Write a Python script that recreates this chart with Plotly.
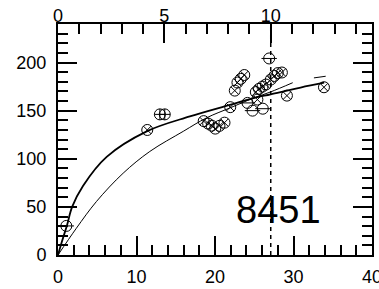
import plotly.graph_objects as go

# ---- data ----
x_cross = [11.37, 18.56, 19.13, 19.58, 20.03, 20.57, 21.21, 21.94, 22.52, 22.86,
           23.28, 23.73, 25.4, 25.2, 25.6, 26.05, 26.48, 27.11, 27.56, 28.0,
           28.52, 29.16, 33.88]
y_cross = [129.9, 139.1, 136.5, 134.4, 131.3, 134.2, 137.5, 153.6, 170.8, 179.2,
           183.0, 187.0, 161.5, 169.3, 172.6, 175.0, 177.1, 182.3, 186.0, 189.0,
           189.6, 165.6, 174.3]

x_plus = [12.98, 13.6]
y_plus = [146.1, 146.1]

x_minus = [1.06, 24.14, 24.78, 26.09, 26.9]
y_minus = [30.2, 158.0, 150.0, 152.0, 204.2]

x_fit_a = [0, 0.5, 1.15, 1.8, 3.2, 6.2, 11.3, 16.8, 21.9, 24.9, 27.1, 30.9, 33.9]
y_fit_a = [0, 14, 31, 50, 72, 102, 128.5, 144, 156, 163, 167, 174, 179]

x_fit_b = [0, 2.34, 4.89, 8.3, 11.7, 15.96, 18.9, 21.9, 24.9, 27.1, 29.9]
y_fit_b = [0, 27.8, 55.5, 85, 107.6, 128.5, 142.4, 152.8, 163, 169.5, 179]

x_tail_b = [32.6, 34.1]
y_tail_b = [184.0, 185.7]

x_range = [0, 40]
top_range = [0, 14.76]
y_range = [0, 240]
ref_top = 10
label_text = "8451"
label_pos = (28.1, 47)

FONT = "Liberation Sans, Arial, sans-serif"

fig = go.Figure()

fig.add_trace(go.Scatter(x=x_fit_b, y=y_fit_b, mode="lines", line=dict(color="black", width=1, shape="spline")))
fig.add_trace(go.Scatter(x=x_tail_b, y=y_tail_b, mode="lines", line=dict(color="black", width=1)))
fig.add_trace(go.Scatter(x=x_fit_a, y=y_fit_a, mode="lines", line=dict(color="black", width=1.8, shape="spline")))

mk = dict(size=11, color="black", line=dict(color="black", width=1))
fig.add_trace(go.Scatter(x=x_cross, y=y_cross, mode="markers", marker=dict(symbol="circle-x-open", **mk)))
fig.add_trace(go.Scatter(x=x_plus, y=y_plus, mode="markers", marker=dict(symbol="circle-cross-open", **mk)))
fig.add_trace(go.Scatter(x=x_minus, y=y_minus, mode="markers", marker=dict(symbol="circle-open", **mk)))
fig.add_trace(go.Scatter(x=x_minus, y=y_minus, mode="markers", marker=dict(symbol="line-ew-open", **mk)))

# dashed reference line on the top/right axes
fig.add_trace(go.Scatter(x=[ref_top, ref_top], y=y_range, mode="lines", xaxis="x2", yaxis="y2",
                         line=dict(color="black", width=1.5, dash="4px,4px")))

fig.add_annotation(x=label_pos[0], y=label_pos[1], text=label_text, showarrow=False,
                   font=dict(family=FONT, size=38, color="black"), xanchor="center", yanchor="middle")

axis_common = dict(showgrid=False, zeroline=False, showline=True, linecolor="black", linewidth=2,
                   ticks="inside", tickcolor="black", tickwidth=1.5, ticklen=19, automargin=False,
                   ticklabeloverflow="allow",
                   tickfont=dict(family=FONT, size=18, color="black"))

fig.update_layout(
    width=379, height=289,
    margin=dict(l=57.7, r=7.3, t=24, b=34, autoexpand=False),
    paper_bgcolor="white", plot_bgcolor="white",
    showlegend=False, hovermode=False,
    xaxis=dict(range=x_range, dtick=10, minor=dict(dtick=2, ticks="inside", ticklen=10, tickcolor="black", tickwidth=1.5),
               ticklabelstandoff=4, **axis_common),
    yaxis=dict(range=y_range, dtick=50, minor=dict(dtick=10, ticks="inside", ticklen=10, tickcolor="black", tickwidth=1.5),
               ticklabelstandoff=6, **axis_common),
    xaxis2=dict(range=top_range, dtick=5, overlaying="x", side="top", anchor="y2",
                minor=dict(dtick=1, ticks="inside", ticklen=10, tickcolor="black", tickwidth=1.5),
                ticklabelstandoff=-7, **axis_common),
    yaxis2=dict(range=y_range, dtick=50, overlaying="y", side="right", anchor="x2", showticklabels=False,
                minor=dict(dtick=10, ticks="inside", ticklen=10, tickcolor="black", tickwidth=1.5),
                **axis_common),
)

fig.write_html("out.html", config={"displayModeBar": False},
               post_script="document.body.style.margin='0';")
